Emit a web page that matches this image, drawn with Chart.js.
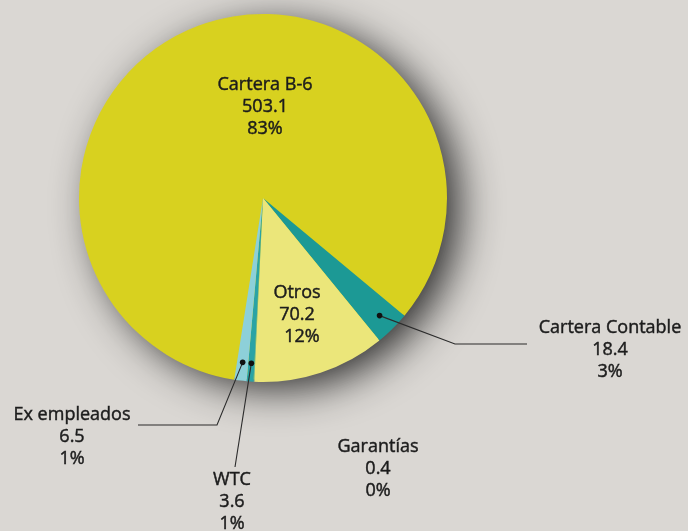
<!DOCTYPE html>
<html>
<head>
<meta charset="utf-8">
<script src="https://cdn.jsdelivr.net/npm/chart.js@4"></script>
<style>
  html, body { margin: 0; padding: 0; background: #dad7d3; }
  #wrap { width: 688px; height: 531px; position: relative; }
</style>
</head>
<body>
<div id="wrap"><canvas id="pie" width="688" height="531"></canvas></div>
<script>
// Composición de la cartera (millones)
const categories = ['Cartera B-6', 'Cartera Contable', 'Otros', 'Garantías', 'WTC', 'Ex empleados'];
const amounts = [503.1, 18.4, 70.2, 0.4, 3.6, 6.5];
const percentLabels = ['83%', '3%', '12%', '0%', '1%', '1%'];
const sliceColors = ['#d8d11f', '#1c9995', '#ebe67a', '#5fb9bd', '#2aa3a5', '#8dd0d9'];

// Where each label block sits, and the leader line path (null = no line)
const labelLayout = [
  { x: 265, y: 85, path: null },
  { x: 610, y: 328, path: [[455, 344], [527, 344]] },
  { x: 297, y: 293, inside: true },
  { x: 378, y: 447, path: null },
  { x: 232, y: 480, path: [[235, 467]] },
  { x: 72, y: 415, path: [[217, 425], [138, 425]] }
];

const FONT = '18px "Open Sans", "Noto Sans", sans-serif';
const LINE_H = 22;

const shadowPlugin = {
  id: 'pieShadow',
  beforeDatasetsDraw(chart) {
    const arc = chart.getDatasetMeta(0).data[0];
    if (!arc) return;
    const { x, y, outerRadius } = arc.getProps(['x', 'y', 'outerRadius'], true);
    const ctx = chart.ctx;
    ctx.save();
    ctx.shadowColor = 'rgba(25,25,25,0.9)';
    ctx.shadowBlur = 40;
    ctx.shadowOffsetX = 14;
    ctx.shadowOffsetY = 9;
    ctx.fillStyle = '#d8d11f';
    ctx.beginPath();
    ctx.arc(x, y, outerRadius - 2, 0, Math.PI * 2);
    ctx.fill();
    ctx.restore();
  }
};

const labelPlugin = {
  id: 'sliceLabels',
  afterDatasetsDraw(chart) {
    const ctx = chart.ctx;
    const meta = chart.getDatasetMeta(0);
    ctx.save();
    ctx.font = FONT;
    ctx.textAlign = 'center';
    ctx.textBaseline = 'middle';

    meta.data.forEach((arc, i) => {
      const lay = labelLayout[i];
      const { x, y, startAngle, endAngle, outerRadius } =
        arc.getProps(['x', 'y', 'startAngle', 'endAngle', 'outerRadius'], true);

      // leader line from a dot inside the slice
      if (lay.path) {
        const mid = (startAngle + endAngle) / 2;
        const dx = x + Math.cos(mid) * outerRadius * 0.9;
        const dy = y + Math.sin(mid) * outerRadius * 0.9;
        ctx.strokeStyle = '#2b2b2b';
        ctx.lineWidth = 1.1;
        ctx.beginPath();
        ctx.moveTo(dx, dy);
        lay.path.forEach(([px, py]) => ctx.lineTo(px, py));
        ctx.stroke();
        ctx.fillStyle = '#111';
        ctx.beginPath();
        ctx.arc(dx, dy, 2.8, 0, Math.PI * 2);
        ctx.fill();
      }

      // a thin stroke gives the text a slightly heavier weight
      ctx.fillStyle = '#1c1c1c';
      ctx.strokeStyle = '#1c1c1c';
      ctx.lineWidth = 0.45;
      const texts = [categories[i], amounts[i].toFixed(1), percentLabels[i]];
      texts.forEach((t, k) => {
        const shift = lay.inside && k === 2 ? 5 : 0;
        ctx.fillText(t, lay.x + shift, lay.y + k * LINE_H);
        ctx.strokeText(t, lay.x + shift, lay.y + k * LINE_H);
      });
    });
    ctx.restore();
  }
};

new Chart(document.getElementById('pie'), {
  type: 'pie',
  data: {
    labels: categories,
    datasets: [{
      data: amounts,
      backgroundColor: sliceColors,
      borderWidth: 0
    }]
  },
  options: {
    responsive: false,
    animation: false,
    rotation: 189,
    layout: { padding: { top: 14, bottom: 149, left: 79, right: 241 } },
    plugins: {
      legend: { display: false },
      tooltip: { enabled: false }
    }
  },
  plugins: [shadowPlugin, labelPlugin]
});
</script>
</body>
</html>
